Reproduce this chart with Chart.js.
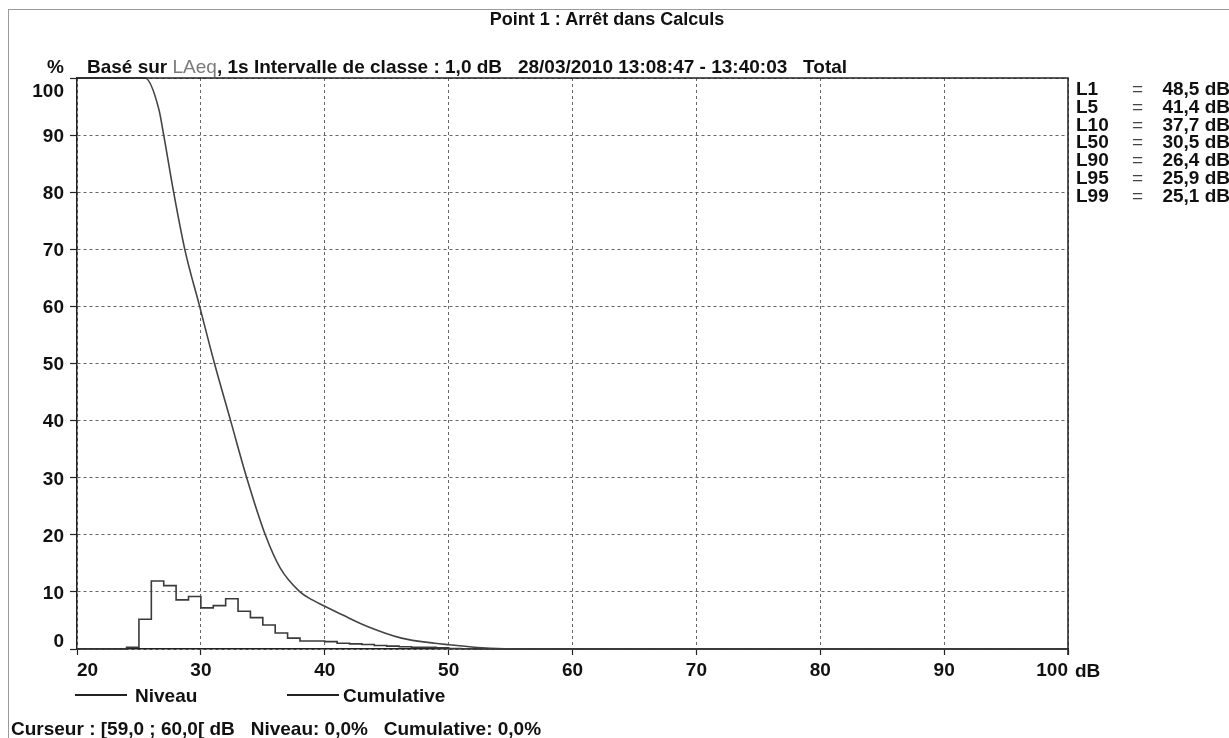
<!DOCTYPE html>
<html><head><meta charset="utf-8">
<script src="https://cdn.jsdelivr.net/npm/chart.js@4/dist/chart.umd.min.js"></script>
<style>
html,body{margin:0;padding:0;background:#fff;}
body{width:1229px;height:738px;position:relative;overflow:hidden;font-family:"Liberation Sans",Arial,sans-serif;font-weight:bold;color:#111;}
#frame{position:absolute;left:8px;top:9px;width:1240px;height:760px;border-top:1px solid #9a9a9a;border-left:1px solid #9a9a9a;}
#c{position:absolute;left:0;top:0;}
.t{position:absolute;white-space:pre;font-size:19px;line-height:19px;}
.ln{position:absolute;height:2px;background:#222;}
</style></head><body>
<div id="frame"></div>
<canvas id="c" width="1229" height="738"></canvas>
<div class="t" style="left:0;width:1214px;text-align:center;top:10px;font-size:18px;line-height:18px;">Point 1 : Arrêt dans Calculs</div>
<div class="t" style="left:47px;top:57px;">%</div>
<div class="t" style="left:87px;top:57px;">Basé sur <span style="font-weight:normal;color:#7a7a7a">LAeq</span>, 1s Intervalle de classe : 1,0 dB   28/03/2010 13:08:47 - 13:40:03   Total</div>
<div id="stats"></div>
<div class="t" style="left:1075px;top:661px;">dB</div>
<div class="ln" style="left:75px;top:694px;width:52px;"></div>
<div class="t" style="left:135px;top:686px;">Niveau</div>
<div class="ln" style="left:287px;top:694px;width:52px;"></div>
<div class="t" style="left:343px;top:686px;">Cumulative</div>
<div class="t" style="left:11px;top:719px;">Curseur : [59,0 ; 60,0[ dB   Niveau: 0,0%   Cumulative: 0,0%</div>
<script>
// ---- data ----
const niveauDb  = [20, 24, 25, 26, 27, 28, 29, 30, 31, 32, 33, 34, 35, 36, 37, 38, 39, 40, 41, 42, 43, 44, 45, 46, 47, 48, 49, 50, 51, 52, 53, 100];
const niveauPct = [0, 0.3, 5.2, 11.9, 11.1, 8.6, 9.2, 7.2, 7.6, 8.8, 6.6, 5.5, 4.2, 2.8, 1.9, 1.4, 1.4, 1.3, 1.0, 0.9, 0.8, 0.6, 0.5, 0.4, 0.3, 0.3, 0.2, 0.1, 0.05, 0, 0, 0];
const cumulDb   = [20, 25.5, 26.6, 27.0, 27.8, 28.7, 29.9, 31.1, 32.4, 33.7, 35.2, 36.4, 38.0, 39.0, 40.0, 41.5, 43.5, 46.2, 48.9, 50.0, 52.7, 55, 100];
const cumulPct  = [100, 100, 94.6, 90, 80, 70, 60, 50, 40, 30, 20, 14.2, 10, 8.6, 7.5, 5.9, 3.9, 1.9, 1.0, 0.75, 0.2, 0, 0];
const yTicks    = [0, 10, 20, 30, 40, 50, 60, 70, 80, 90, 100];
const statNames  = ['L1', 'L5', 'L10', 'L50', 'L90', 'L95', 'L99'];
const statValues = ['48,5 dB', '41,4 dB', '37,7 dB', '30,5 dB', '26,4 dB', '25,9 dB', '25,1 dB'];

// stats block
const st = document.getElementById('stats');
statNames.forEach((n, i) => {
  const top = 95 + 17.8 * i - 16;
  st.insertAdjacentHTML('beforeend',
    `<div class="t" style="left:1076px;top:${top}px;">${n}</div>` +
    `<div class="t" style="left:1132px;top:${top}px;font-weight:normal;color:#444;">=</div>` +
    `<div class="t" style="right:-1px;top:${top}px;text-align:right;">${statValues[i]}</div>`);
});

const FONT = {family: '"Liberation Sans", Arial, sans-serif', size: 19, weight: 'bold'};

const frameBorder = {
  id: 'frameBorder',
  afterDatasetsDraw(chart) {
    const {ctx, chartArea: a, scales} = chart;
    ctx.save();
    ctx.strokeStyle = '#222';
    ctx.lineWidth = 1.5;
    ctx.beginPath();
    ctx.moveTo(a.left, a.top); ctx.lineTo(a.right, a.top); ctx.lineTo(a.right, a.bottom + 6);
    ctx.stroke();
    // y tick labels
    const y = scales.y;
    ctx.font = 'bold 19px "Liberation Sans", Arial, sans-serif';
    ctx.fillStyle = '#111';
    ctx.textAlign = 'right';
    ctx.textBaseline = 'alphabetic';
    yTicks.forEach(v => {
      const p = y.getPixelForValue(v);
      let b = p + 6.8;
      if (v === y.max) b = p + 18.5;
      else if (v === y.min) b = p - 2;
      ctx.fillText(String(v), 64, b);
    });
    ctx.restore();
  }
};

new Chart(document.getElementById('c'), {
  type: 'line',
  data: {
    datasets: [
      {
        label: 'Niveau',
        data: niveauDb.map((x, i) => ({x, y: niveauPct[i]})),
        stepped: 'before',
        borderColor: '#3a3a3a',
        borderWidth: 1.6,
        pointRadius: 0,
        fill: false,
        clip: 4
      },
      {
        label: 'Cumulative',
        data: cumulDb.map((x, i) => ({x, y: cumulPct[i]})),
        cubicInterpolationMode: 'monotone',
        borderColor: '#444',
        borderWidth: 1.6,
        pointRadius: 0,
        fill: false,
        clip: 4
      }
    ]
  },
  options: {
    responsive: false,
    animation: false,
    events: [],
    layout: {padding: {top: 78, right: 161, left: 0, bottom: 0}},
    plugins: {legend: {display: false}, tooltip: {enabled: false}, title: {display: false}},
    scales: {
      x: {
        type: 'linear', min: 20, max: 100,
        afterFit(s) { s.height = 89; },
        ticks: {stepSize: 10, align: 'inner', padding: 4, color: '#111', font: FONT, maxRotation: 0},
        grid: {color: '#666', lineWidth: 1, tickLength: 6, tickColor: '#222', tickWidth: 1.2},
        border: {display: true, color: '#222', width: 1.5, dash: [3, 3]}
      },
      y: {
        type: 'linear', min: 0, max: 100,
        afterFit(s) { s.width = 77; },
        ticks: {stepSize: 10, display: false},
        grid: {color: '#666', lineWidth: 1, tickLength: 7, tickColor: '#222', tickWidth: 1.2},
        border: {display: true, color: '#222', width: 1.5, dash: [3, 3]}
      }
    }
  },
  plugins: [frameBorder]
});
</script>
</body></html>
